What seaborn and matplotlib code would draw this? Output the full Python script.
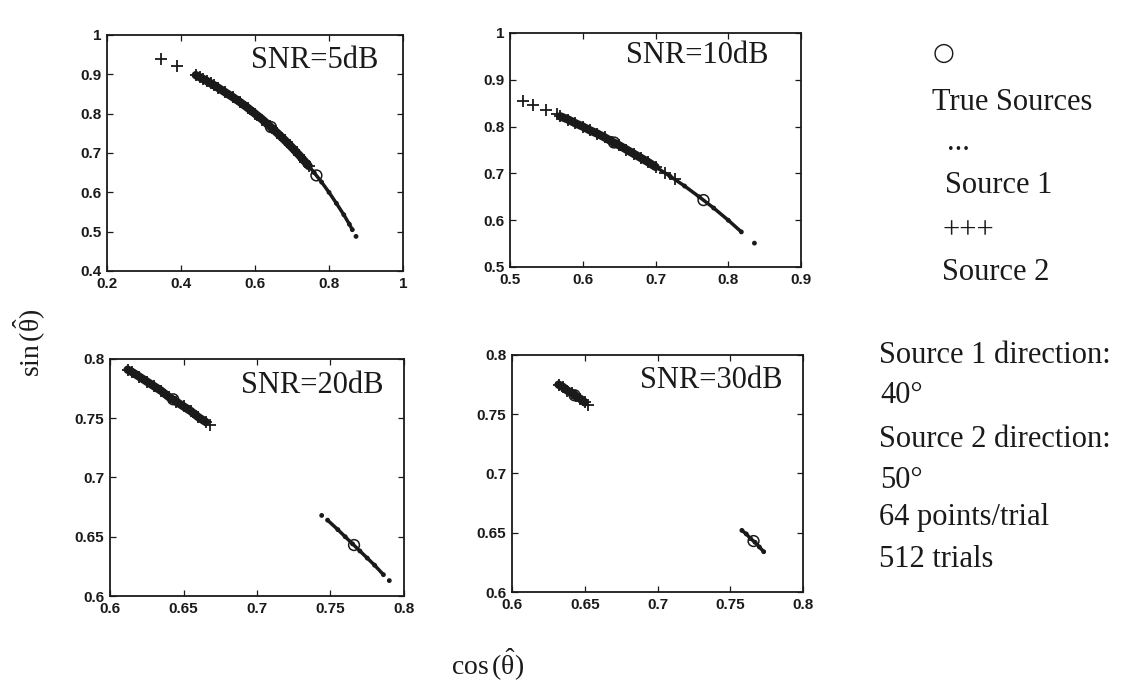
import numpy as np
import pandas as pd
import seaborn as sns
import matplotlib
matplotlib.use("Agg")
import matplotlib.pyplot as plt

# ---------------- data (cos, sin of estimated angles) ----------------
true_x = [0.766, 0.643]
true_y = [0.643, 0.766]

# Panel 1: SNR = 5 dB
p1_s2_x = [0.44, 0.45, 0.46, 0.47, 0.48, 0.49, 0.50, 0.52, 0.54, 0.56, 0.58, 0.60,
           0.62, 0.64, 0.66, 0.68, 0.70, 0.72, 0.735, 0.745]
p1_s2_y = [0.898, 0.893, 0.888, 0.883, 0.877, 0.872, 0.866, 0.854, 0.842, 0.829, 0.815, 0.800,
           0.785, 0.768, 0.751, 0.733, 0.714, 0.694, 0.678, 0.667]
p1_s2_out_x = [0.345, 0.39]
p1_s2_out_y = [0.939, 0.921]
p1_s1_x = [0.70, 0.72, 0.74, 0.76, 0.78, 0.80, 0.82, 0.84, 0.855, 0.863]
p1_s1_y = [0.714, 0.694, 0.673, 0.650, 0.626, 0.600, 0.572, 0.543, 0.519, 0.505]
p1_s1_out_x = [0.873]
p1_s1_out_y = [0.488]

# Panel 2: SNR = 10 dB
p2_s2_x = [0.569, 0.58, 0.59, 0.60, 0.61, 0.62, 0.63, 0.64, 0.65, 0.66, 0.67, 0.68, 0.69, 0.70]
p2_s2_y = [0.822, 0.815, 0.807, 0.800, 0.792, 0.785, 0.777, 0.768, 0.760, 0.751, 0.742, 0.733, 0.724, 0.714]
p2_s2_out_x = [0.518, 0.532, 0.550, 0.564, 0.713, 0.727]
p2_s2_out_y = [0.855, 0.847, 0.835, 0.826, 0.701, 0.687]
p2_s1_x = [0.70, 0.72, 0.74, 0.76, 0.78, 0.80, 0.818]
p2_s1_y = [0.714, 0.694, 0.673, 0.650, 0.626, 0.600, 0.575]
p2_s1_out_x = [0.836]
p2_s1_out_y = [0.551]

# Panel 3: SNR = 20 dB
p3_s2_x = [0.612, 0.615, 0.62, 0.625, 0.63, 0.635, 0.64, 0.645, 0.65, 0.655, 0.66, 0.665]
p3_s2_y = [0.791, 0.789, 0.785, 0.781, 0.777, 0.773, 0.768, 0.764, 0.760, 0.756, 0.751, 0.747]
p3_s2_out_x = [0.668]
p3_s2_out_y = [0.744]
p3_s1_x = [0.748, 0.755, 0.76, 0.765, 0.77, 0.775, 0.78, 0.786]
p3_s1_y = [0.664, 0.656, 0.650, 0.644, 0.638, 0.632, 0.626, 0.618]
p3_s1_out_x = [0.744, 0.790]
p3_s1_out_y = [0.668, 0.613]

# Panel 4: SNR = 30 dB
p4_s2_x = [0.632, 0.635, 0.638, 0.641, 0.644, 0.647, 0.650]
p4_s2_y = [0.775, 0.773, 0.770, 0.768, 0.765, 0.763, 0.760]
p4_s2_out_x = [0.652]
p4_s2_out_y = [0.758]
p4_s1_x = [0.758, 0.761, 0.764, 0.767, 0.770, 0.773]
p4_s1_y = [0.652, 0.649, 0.645, 0.642, 0.638, 0.634]
p4_s1_out_x = []
p4_s1_out_y = []

# ticks
p1_xticks = [0.2, 0.4, 0.6, 0.8, 1.0]
p1_xlabels = ["0.2", "0.4", "0.6", "0.8", "1"]
p1_yticks = [0.4, 0.5, 0.6, 0.7, 0.8, 0.9, 1.0]
p1_ylabels = ["0.4", "0.5", "0.6", "0.7", "0.8", "0.9", "1"]
p2_xticks = [0.5, 0.6, 0.7, 0.8, 0.9]
p2_xlabels = ["0.5", "0.6", "0.7", "0.8", "0.9"]
p2_yticks = [0.5, 0.6, 0.7, 0.8, 0.9, 1.0]
p2_ylabels = ["0.5", "0.6", "0.7", "0.8", "0.9", "1"]
p34_ticks = [0.6, 0.65, 0.7, 0.75, 0.8]
p34_labels = ["0.6", "0.65", "0.7", "0.75", "0.8"]

titles = ["SNR=5dB", "SNR=10dB", "SNR=20dB", "SNR=30dB"]

legend_lines = ["True Sources", "...", "Source 1", "+++", "Source 2"]
info_lines = ["Source 1 direction:", "40°", "Source 2 direction:", "50°",
              "64 points/trial", "512 trials"]

# ---------------- style ----------------
sns.set_theme(style="white")
plt.rcParams["font.family"] = ["Liberation Sans", "DejaVu Sans"]
plt.rcParams["mathtext.fontset"] = "custom"
plt.rcParams["mathtext.rm"] = "Liberation Serif"
plt.rcParams["mathtext.it"] = "Liberation Serif"

W, H = 1135, 687
fig = plt.figure(figsize=(W / 100, H / 100), dpi=100)
fig.patch.set_facecolor("white")


def px_rect(l, t, r, b):
    return [l / W, (H - b) / H, (r - l) / W, (b - t) / H]


def px(x, y):
    return x / W, (H - y) / H


SERIF = ["Liberation Serif", "DejaVu Serif"]


def draw_panel(ax, s2x, s2y, s2ox, s2oy, s1x, s1y, s1ox, s1oy,
               xlim, ylim, xt, xtl, yt, ytl, title, tpos):
    sns.lineplot(x=s2x, y=s2y, ax=ax, color="k", lw=6.0, sort=False, estimator=None)
    sns.scatterplot(x=s2x + s2ox, y=s2y + s2oy, ax=ax, marker="+", s=65,
                    color="k", linewidth=1.3)
    sns.lineplot(x=s1x, y=s1y, ax=ax, color="k", lw=2.5, sort=False, estimator=None)
    sns.scatterplot(x=s1x + s1ox, y=s1y + s1oy, ax=ax, marker="o", s=12,
                    color="k", edgecolor="none")
    sns.scatterplot(x=true_x, y=true_y, ax=ax, marker="o", s=60,
                    facecolor="none", edgecolor="k", linewidth=1.1)
    ax.set_xlim(*xlim)
    ax.set_ylim(*ylim)
    ax.set_xticks(xt)
    ax.set_xticklabels(xtl)
    ax.set_yticks(yt)
    ax.set_yticklabels(ytl)
    ax.set_xlabel("")
    ax.set_ylabel("")
    for sp in ax.spines.values():
        sp.set_visible(True)
        sp.set_color("k")
        sp.set_linewidth(1.3)
    ax.tick_params(direction="in", length=4, width=0.9, top=True, right=True,
                   bottom=True, left=True, labelsize=11, pad=4, colors="k")
    for lab in ax.get_xticklabels() + ax.get_yticklabels():
        lab.set_fontweight("bold")
    ax.grid(False)
    ax.text(tpos[0], tpos[1], title, transform=ax.transAxes, ha="right",
            va="baseline", fontsize=22, family=SERIF, color="k")


ax1 = fig.add_axes(px_rect(107, 35, 403, 271))
draw_panel(ax1, p1_s2_x, p1_s2_y, p1_s2_out_x, p1_s2_out_y,
           p1_s1_x, p1_s1_y, p1_s1_out_x, p1_s1_out_y,
           (0.2, 1.0), (0.4, 1.0), p1_xticks, p1_xlabels, p1_yticks, p1_ylabels,
           titles[0], (0.916, 0.860))

ax2 = fig.add_axes(px_rect(510, 33, 801, 267))
draw_panel(ax2, p2_s2_x, p2_s2_y, p2_s2_out_x, p2_s2_out_y,
           p2_s1_x, p2_s1_y, p2_s1_out_x, p2_s1_out_y,
           (0.5, 0.9), (0.5, 1.0), p2_xticks, p2_xlabels, p2_yticks, p2_ylabels,
           titles[1], (0.887, 0.872))

ax3 = fig.add_axes(px_rect(110, 359, 404, 596))
draw_panel(ax3, p3_s2_x, p3_s2_y, p3_s2_out_x, p3_s2_out_y,
           p3_s1_x, p3_s1_y, p3_s1_out_x, p3_s1_out_y,
           (0.6, 0.8), (0.6, 0.8), p34_ticks, p34_labels, p34_ticks, p34_labels,
           titles[2], (0.929, 0.857))

ax4 = fig.add_axes(px_rect(512, 355, 803, 592))
draw_panel(ax4, p4_s2_x, p4_s2_y, p4_s2_out_x, p4_s2_out_y,
           p4_s1_x, p4_s1_y, p4_s1_out_x, p4_s1_out_y,
           (0.6, 0.8), (0.6, 0.8), p34_ticks, p34_labels, p34_ticks, p34_labels,
           titles[3], (0.931, 0.861))

# axis labels
fig.text(*px(30, 343), r"$\mathrm{sin}\,(\hat{\mathrm{\theta}})$", rotation=90, ha="center",
         va="center", fontsize=20, color="k")
fig.text(*px(488, 665), r"$\mathrm{cos}\,(\hat{\mathrm{\theta}})$", ha="center",
         va="center", fontsize=20, color="k")

# legend-like annotations on the right
fig.text(*px(944, 53), "○", ha="center", va="center", fontsize=18,
         family=["DejaVu Sans"], color="k")
legend_pos = [(932, 110), (947, 150), (945, 193), (942, 238), (942, 280)]
for s, (x, y) in zip(legend_lines, legend_pos):
    fig.text(*px(x, y), s, ha="left", va="baseline", fontsize=22, family=SERIF, color="k")

info_pos = [(879, 363), (880, 403), (879, 447), (880, 488), (879, 525), (879, 567)]
for s, (x, y) in zip(info_lines, info_pos):
    fig.text(*px(x, y), s, ha="left", va="baseline", fontsize=22, family=SERIF, color="k")

fig.savefig("out.png", dpi=100, facecolor="white")
